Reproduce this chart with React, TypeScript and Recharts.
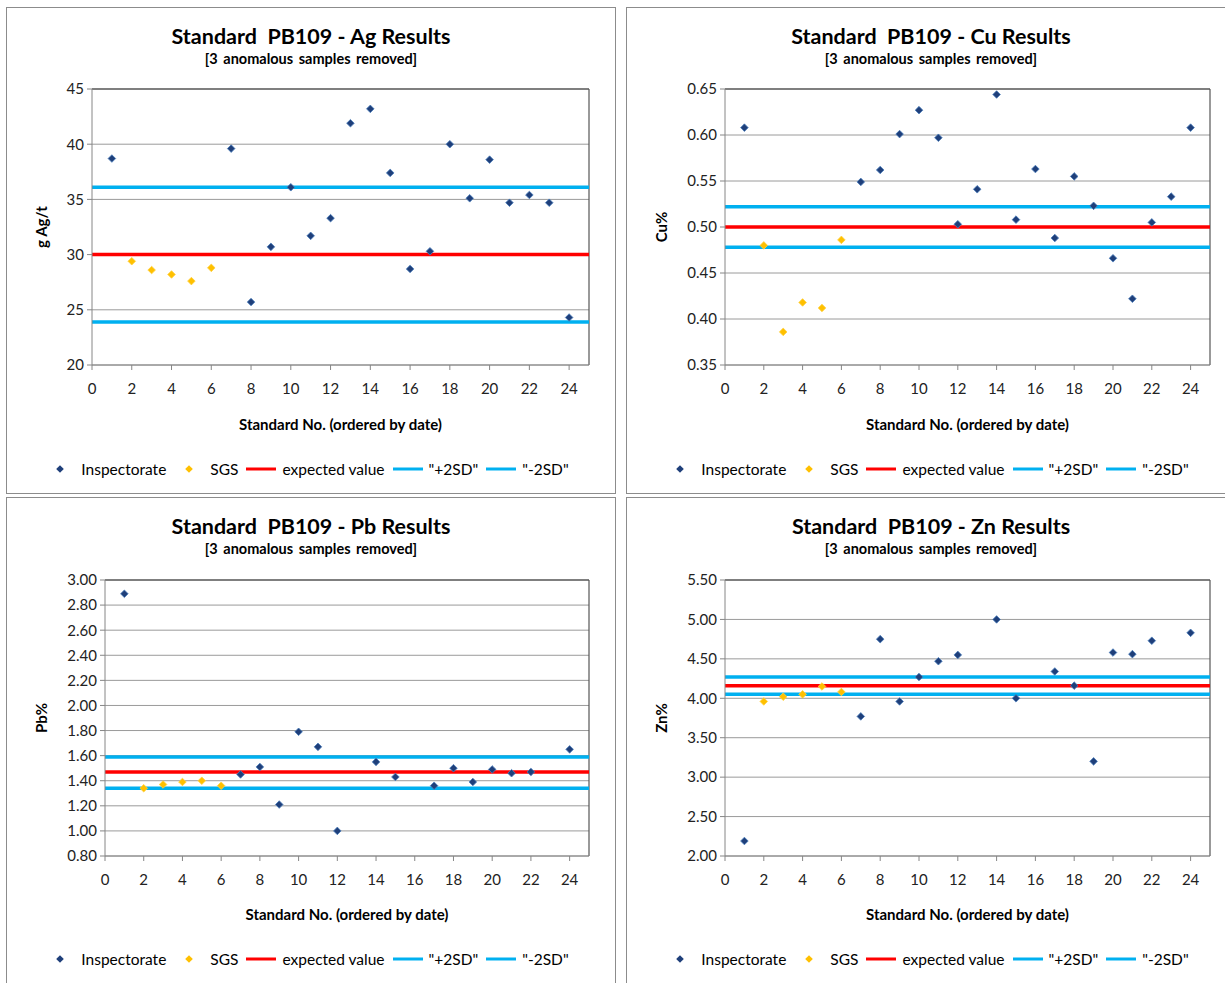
import React from 'react';
import { ScatterChart, Scatter, XAxis, YAxis, CartesianGrid, ReferenceLine } from 'recharts';

// standard numbers 1..24, ordered by date
const standardNos = [1, 2, 3, 4, 5, 6, 7, 8, 9, 10, 11, 12, 13, 14, 15, 16, 17, 18, 19, 20, 21, 22, 23, 24];
const xTicks = [0, 2, 4, 6, 8, 10, 12, 14, 16, 18, 20, 22, 24];

// Ag, g/t
const agInspectorate = [38.7, null, null, null, null, null, 39.6, 25.7, 30.7, 36.1, 31.7, 33.3, 41.9, 43.2, 37.4, 28.7, 30.3, 40.0, 35.1, 38.6, 34.7, 35.4, 34.7, 24.3];
const agSGS = [null, 29.4, 28.6, 28.2, 27.6, 28.8, null, null, null, null, null, null, null, null, null, null, null, null, null, null, null, null, null, null];
const agLimits = [30.0, 36.1, 23.9]; // expected, +2SD, -2SD
const agTicks = [20, 25, 30, 35, 40, 45];

// Cu, %
const cuInspectorate = [0.608, null, null, null, null, null, 0.549, 0.562, 0.601, 0.627, 0.597, 0.503, 0.541, 0.644, 0.508, 0.563, 0.488, 0.555, 0.523, 0.466, 0.422, 0.505, 0.533, 0.608];
const cuSGS = [null, 0.480, 0.386, 0.418, 0.412, 0.486, null, null, null, null, null, null, null, null, null, null, null, null, null, null, null, null, null, null];
const cuLimits = [0.500, 0.522, 0.478];
const cuTicks = [0.35, 0.40, 0.45, 0.50, 0.55, 0.60, 0.65];

// Pb, %
const pbInspectorate = [2.89, null, null, null, null, null, 1.45, 1.51, 1.21, 1.79, 1.67, 1.00, null, 1.55, 1.43, null, 1.36, 1.50, 1.39, 1.49, 1.46, 1.47, null, 1.65];
const pbSGS = [null, 1.34, 1.37, 1.39, 1.40, 1.36, null, null, null, null, null, null, null, null, null, null, null, null, null, null, null, null, null, null];
const pbLimits = [1.47, 1.59, 1.34];
const pbTicks = [0.8, 1.0, 1.2, 1.4, 1.6, 1.8, 2.0, 2.2, 2.4, 2.6, 2.8, 3.0];

// Zn, %
const znInspectorate = [2.19, null, null, null, null, null, 3.77, 4.75, 3.96, 4.27, 4.47, 4.55, null, 5.00, 4.00, null, 4.34, 4.16, 3.20, 4.58, 4.56, 4.73, null, 4.83];
const znSGS = [null, 3.96, 4.02, 4.05, 4.15, 4.08, null, null, null, null, null, null, null, null, null, null, null, null, null, null, null, null, null, null];
const znLimits = [4.16, 4.27, 4.05];
const znTicks = [2.0, 2.5, 3.0, 3.5, 4.0, 4.5, 5.0, 5.5];

const FONT = 'Lato, "Liberation Sans", sans-serif';
const BLUE = '#1f3f7a';
const GOLD = '#ffc000';
const RED = '#ff0000';
const CYAN = '#00b0f0';

const toPoints = (vals: (number | null)[]) =>
  standardNos.map((n, i) => ({ x: n, y: vals[i] })).filter((p) => p.y != null);

const Diamond = (color: string, edge: string) => (props: any) => {
  const { cx, cy } = props;
  if (cx == null || cy == null) return null;
  const r = 3.8;
  return (
    <polygon
      points={`${cx},${cy - r} ${cx + r},${cy} ${cx},${cy + r} ${cx - r},${cy}`}
      fill={color}
      stroke={edge}
      strokeWidth={0.8}
    />
  );
};

const legendItems = [
  { label: 'Inspectorate', kind: 'diamond', color: BLUE },
  { label: 'SGS', kind: 'diamond', color: GOLD },
  { label: 'expected value', kind: 'line', color: RED },
  { label: '"+2SD"', kind: 'line', color: CYAN },
  { label: '"-2SD"', kind: 'line', color: CYAN },
];

type PanelCfg = {
  title: string;
  yLabel: string;
  insp: (number | null)[];
  sgs: (number | null)[];
  limits: number[];
  ticks: number[];
  digits: number;
  left: number;
  top: number;
  width: number;
  height: number;
  rightBorder: boolean;
  bottomBorder: boolean;
  margin: { top: number; right: number; bottom: number; left: number };
};

const panels: PanelCfg[] = [
  {
    title: 'Standard  PB109 - Ag Results', yLabel: 'g Ag/t', insp: agInspectorate, sgs: agSGS, limits: agLimits, ticks: agTicks, digits: 0,
    left: 6, top: 7, width: 610, height: 487, rightBorder: true, bottomBorder: true,
    margin: { top: 81, right: 26, bottom: 98, left: 35 },
  },
  {
    title: 'Standard  PB109 - Cu Results', yLabel: 'Cu%', insp: cuInspectorate, sgs: cuSGS, limits: cuLimits, ticks: cuTicks, digits: 2,
    left: 626, top: 7, width: 599, height: 487, rightBorder: false, bottomBorder: true,
    margin: { top: 81, right: 15, bottom: 98, left: 48 },
  },
  {
    title: 'Standard  PB109 - Pb Results', yLabel: 'Pb%', insp: pbInspectorate, sgs: pbSGS, limits: pbLimits, ticks: pbTicks, digits: 2,
    left: 6, top: 497, width: 610, height: 486, rightBorder: true, bottomBorder: false,
    margin: { top: 82, right: 26, bottom: 97, left: 48 },
  },
  {
    title: 'Standard  PB109 - Zn Results', yLabel: 'Zn%', insp: znInspectorate, sgs: znSGS, limits: znLimits, ticks: znTicks, digits: 2,
    left: 626, top: 497, width: 599, height: 486, rightBorder: false, bottomBorder: false,
    margin: { top: 82, right: 15, bottom: 97, left: 48 },
  },
];

const Y_AXIS_W = 50;
const X_AXIS_H = 30;

function Legend() {
  return (
    <div style={{ position: 'absolute', left: 4, width: 600, top: 451, height: 20, display: 'flex', justifyContent: 'center', alignItems: 'center', fontSize: 15.5, color: '#000' }}>
      {legendItems.map((it) => (
        <div key={it.label} style={{ display: 'flex', alignItems: 'center', marginRight: 8 }}>
          <svg width={30} height={12} style={{ marginRight: 6 }}>
            {it.kind === 'diamond' ? (
              <polygon points="15,2.2 18.8,6 15,9.8 11.2,6" fill={it.color} />
            ) : (
              <line x1={0} x2={30} y1={6} y2={6} stroke={it.color} strokeWidth={3} />
            )}
          </svg>
          <span>{it.label}</span>
        </div>
      ))}
    </div>
  );
}

function Panel({ cfg }: { cfg: PanelCfg }) {
  const innerW = cfg.width - 1 - (cfg.rightBorder ? 1 : 0);
  const innerH = cfg.height - 1 - (cfg.bottomBorder ? 1 : 0);
  const m = cfg.margin;
  const plotL = m.left + Y_AXIS_W;
  const plotR = innerW - m.right;
  const plotT = m.top;
  const plotB = innerH - m.bottom - X_AXIS_H;
  const yMin = cfg.ticks[0];
  const yMax = cfg.ticks[cfg.ticks.length - 1];
  const [expected, plus2, minus2] = cfg.limits;

  return (
    <div
      style={{
        position: 'absolute', left: cfg.left, top: cfg.top, width: cfg.width, height: cfg.height, boxSizing: 'border-box',
        borderLeft: '1px solid #8c8c8c', borderTop: '1px solid #8c8c8c',
        borderRight: cfg.rightBorder ? '1px solid #8c8c8c' : 'none',
        borderBottom: cfg.bottomBorder ? '1px solid #8c8c8c' : 'none',
        background: '#fff', fontFamily: FONT, overflow: 'hidden',
      }}
    >
      <div style={{ position: 'absolute', left: 4, width: 600, top: 15, textAlign: 'center', fontWeight: 700, fontSize: 21.5, lineHeight: '26px', whiteSpace: 'pre' }}>
        {cfg.title}
      </div>
      <div style={{ position: 'absolute', left: 4, width: 600, top: 42, textAlign: 'center', fontWeight: 700, fontSize: 14.5, lineHeight: '17px', wordSpacing: 2 }}>
        [3 anomalous samples removed]
      </div>
      <div style={{ position: 'absolute', left: 0, top: 0 }}>
        <ScatterChart width={innerW} height={innerH} margin={m}>
          <CartesianGrid vertical={false} stroke="#9a9a9a" strokeWidth={1} />
          <XAxis
            type="number" dataKey="x" domain={[0, 25]} ticks={xTicks} allowDataOverflow
            height={X_AXIS_H} tickSize={5} tickMargin={13}
            stroke="#868686" tick={{ fill: '#222', fontSize: 15, fontFamily: FONT }}
          />
          <YAxis
            type="number" dataKey="y" domain={[yMin, yMax]} ticks={cfg.ticks} allowDataOverflow
            width={Y_AXIS_W} tickSize={5} tickMargin={3}
            tickFormatter={(v: number) => v.toFixed(cfg.digits)}
            stroke="#868686" tick={{ fill: '#222', fontSize: 15, fontFamily: FONT }}
          />
          <ReferenceLine y={yMax} stroke="#333" strokeWidth={1.2} />
          <ReferenceLine x={25} stroke="#555" strokeWidth={1.2} />
          <ReferenceLine y={expected} stroke={RED} strokeWidth={3.5} />
          <ReferenceLine y={plus2} stroke={CYAN} strokeWidth={3.5} />
          <ReferenceLine y={minus2} stroke={CYAN} strokeWidth={3.5} />
          <Scatter name="Inspectorate" data={toPoints(cfg.insp)} shape={Diamond(BLUE, '#4a7ebb')} isAnimationActive={false} />
          <Scatter name="SGS" data={toPoints(cfg.sgs)} shape={Diamond(GOLD, '#ffd040')} isAnimationActive={false} />
        </ScatterChart>
      </div>
      <div style={{ position: 'absolute', left: (plotL + plotR) / 2 - 200, width: 400, top: 407, textAlign: 'center', fontWeight: 700, fontSize: 15, lineHeight: '18px' }}>
        Standard No. (ordered by date)
      </div>
      <div
        style={{
          position: 'absolute', left: 34 - 100, top: (plotT + plotB) / 2 - 9, width: 200, height: 18, lineHeight: '18px',
          textAlign: 'center', fontWeight: 700, fontSize: 15, transform: 'rotate(-90deg)',
        }}
      >
        {cfg.yLabel}
      </div>
      <Legend />
    </div>
  );
}

export default function App() {
  return (
    <div style={{ position: 'absolute', left: 0, top: 0, width: 1225, height: 983, background: '#fff', overflow: 'hidden' }}>
      {panels.map((p) => (
        <Panel key={p.yLabel} cfg={p} />
      ))}
    </div>
  );
}
